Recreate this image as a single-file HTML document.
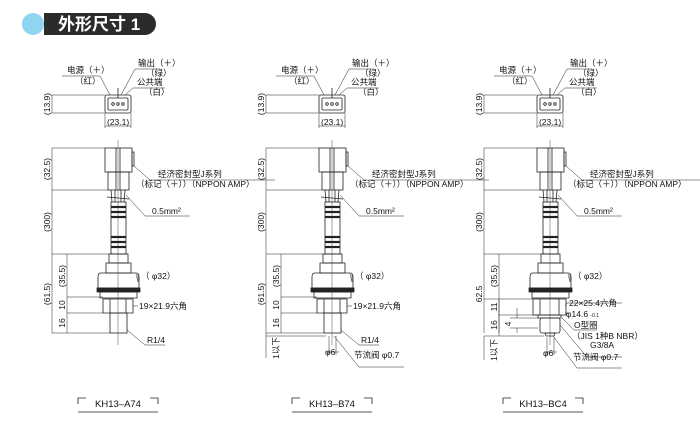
<!DOCTYPE html>
<html><head><meta charset="utf-8"><style>
html,body{margin:0;padding:0;background:#fff;width:700px;height:430px;overflow:hidden}
svg{display:block}
text{font-family:"Liberation Sans","Noto Sans CJK SC",sans-serif;font-size:8.5px;fill:#111}
.v{font-size:9px}
</style></head><body>
<svg width="700" height="430" viewBox="0 0 700 430" xmlns="http://www.w3.org/2000/svg">
<defs>
<g id="body" fill="none" stroke="#222" stroke-width="0.8">
  <rect x="105" y="95" width="26" height="18" rx="2"/>
  <rect x="108" y="98" width="20" height="12" rx="1"/>
  <circle cx="113" cy="104" r="1.3"/><circle cx="118" cy="104" r="1.3"/><circle cx="123" cy="104" r="1.3"/>
  <line x1="118" y1="88" x2="118" y2="98"/>
  <line x1="52" y1="95" x2="105" y2="95" stroke-width="0.5"/>
  <line x1="52" y1="113" x2="105" y2="113" stroke-width="0.5"/>
  <line x1="52" y1="95" x2="52" y2="113" stroke-width="0.5"/>
  <line x1="105" y1="113" x2="105" y2="128" stroke-width="0.5"/>
  <line x1="131" y1="113" x2="131" y2="128" stroke-width="0.5"/>
  <line x1="105" y1="126" x2="131" y2="126" stroke-width="0.5"/>
  <polyline points="62,76 100,76 110,95" stroke-width="0.5"/>
  <polyline points="160,69 135,69 121,95" stroke-width="0.5"/>
  <polyline points="165,88 133,88 125,95" stroke-width="0.5"/>
  <rect x="105" y="148" width="27" height="24"/>
  <rect x="108" y="172" width="21" height="18"/>
  <line x1="116" y1="148" x2="116" y2="190"/><line x1="120" y1="148" x2="120" y2="190"/>
  <rect x="132" y="152" width="2" height="14"/>
  <line x1="111" y1="190" x2="112" y2="202"/><line x1="115" y1="190" x2="115" y2="202"/>
  <line x1="121" y1="190" x2="121" y2="202"/><line x1="125" y1="190" x2="124" y2="202"/>
  <path d="M107 197 L129 199" />
  <rect x="111" y="202" width="15" height="52"/>
  <g stroke-width="2.2"><line x1="111" y1="207" x2="126" y2="207"/><line x1="111" y1="212" x2="126" y2="212"/><line x1="111" y1="217" x2="126" y2="217"/><line x1="111" y1="237" x2="126" y2="237"/><line x1="111" y1="242" x2="126" y2="242"/><line x1="111" y1="247" x2="126" y2="247"/></g>
  <rect x="109" y="254" width="19" height="9"/>
  <path d="M106 263 h25 v10 h-25z"/>
  <path d="M101 273 h35 q3 0 3 4 v11 h-41 v-11 q0-4 3-4z"/>
  <rect x="97" y="288" width="43" height="4" fill="#222"/>
  <path d="M100 292 h37 v6 h-37z"/>
  <line x1="118" y1="140" x2="118" y2="345" stroke-width="0.4"/>
  <g stroke-width="0.5">
  <line x1="52" y1="148" x2="105" y2="148"/><line x1="52" y1="190" x2="108" y2="190"/>
  <line x1="52" y1="254" x2="109" y2="254"/>
  <line x1="52" y1="148" x2="52" y2="333"/>
  <line x1="67" y1="254" x2="67" y2="333"/>
  </g>
</g>
<g id="hexR" fill="none" stroke="#222" stroke-width="0.8">
  <path d="M103 299 h30 v14 h-30z"/><line x1="110" y1="299" x2="110" y2="313"/><line x1="126" y1="299" x2="126" y2="313"/>
  <rect x="110" y="313" width="17" height="20"/>
  <g stroke-width="0.5"><line x1="67" y1="297" x2="103" y2="297"/><line x1="67" y1="313" x2="103" y2="313"/><line x1="52" y1="333" x2="110" y2="333"/></g>
</g>
<g id="cwire" fill="none" stroke="#222" stroke-width="0.5">
  <polyline points="134,166 150,180 275,180"/>
  <polyline points="126,195 145,216 190,216"/>
  <polyline points="136,274 138,282 138,274"/>
</g>
</defs>

<circle cx="33" cy="24" r="11" fill="#8fd5f2"/>
<rect x="44" y="13" width="112" height="22" rx="11" fill="#2b2b2b"/>
<rect x="44" y="13" width="20" height="22" fill="#2b2b2b"/>
<text x="58" y="30" style="font-size:17px;font-weight:bold;fill:#fff">外形尺寸 1</text>

<use href="#body"/><use href="#body" transform="translate(214,0)"/><use href="#body" transform="translate(432,0)"/>
<use href="#hexR"/><use href="#hexR" transform="translate(214,0)"/>
<use href="#cwire"/><use href="#cwire" transform="translate(214,0)"/><use href="#cwire" transform="translate(432,0)"/>

<g fill="none" stroke="#222" stroke-width="0.8" transform="translate(432,0)">
  <path d="M101 299 h33 v16 h-33z"/><line x1="108" y1="299" x2="108" y2="315"/><line x1="127" y1="299" x2="127" y2="315"/>
  <rect x="106" y="315" width="23" height="3"/>
  <rect x="108" y="318" width="20" height="15" rx="2"/>
  <path d="M113 333 h10 l-1 3 h-8z"/>
  <g stroke-width="0.5"><line x1="52" y1="299" x2="101" y2="299"/><line x1="67" y1="315" x2="106" y2="315"/><line x1="52" y1="336" x2="112" y2="336"/><line x1="78" y1="318" x2="106" y2="318"/><line x1="78" y1="328" x2="106" y2="328"/>
  <line x1="52" y1="336" x2="52" y2="360"/><line x1="67" y1="299" x2="67" y2="336"/><line x1="85" y1="308" x2="85" y2="318"/><line x1="85" y1="328" x2="85" y2="333"/>
  <line x1="115" y1="338" x2="115" y2="355"/><line x1="122" y1="338" x2="122" y2="355"/><line x1="112" y1="352" x2="125" y2="352"/>
  <polyline points="133,306 135,303 190,303"/><polyline points="133,313 138,313"/>
  <polyline points="130,318 142,330 165,330"/><polyline points="128,325 155,357 190,357"/><polyline points="121,336 145,368 190,368"/>
  </g>
</g>
<g fill="none" stroke="#222" stroke-width="0.5" transform="translate(214,0)">
  <line x1="52" y1="333" x2="52" y2="358"/><line x1="52" y1="336" x2="112" y2="336"/>
  <line x1="115" y1="336" x2="115" y2="355"/><line x1="122" y1="336" x2="122" y2="355"/><line x1="112" y1="352" x2="125" y2="352"/>
  <polyline points="120,336 145,367 190,367"/>
</g>
<g fill="none" stroke="#222" stroke-width="0.5">
  <polyline points="127,330 145,345 165,345"/><polyline points="341,330 359,345 379,345"/>
  <polyline points="133,306 138,306"/><polyline points="347,306 352,306"/>
</g>

<text x="67" y="73">电源（＋）</text><text x="75" y="84">（红）</text>
<text x="138" y="66">输出（＋）</text><text x="146" y="76">（绿）</text><text x="137" y="85">公共端</text><text x="144" y="95">（白）</text>
<text x="107" y="125">(23.1)</text>
<text x="158" y="177">经济密封型J系列</text><text x="136" y="187">（标记（＋））（NPPON AMP）</text>
<text x="152" y="214">0.5mm²</text>
<text x="141" y="279">（ φ32）</text>

<text x="281" y="73">电源（＋）</text><text x="289" y="84">（红）</text>
<text x="352" y="66">输出（＋）</text><text x="360" y="76">（绿）</text><text x="351" y="85">公共端</text><text x="358" y="95">（白）</text>
<text x="321" y="125">(23.1)</text>
<text x="372" y="177">经济密封型J系列</text><text x="350" y="187">（标记（＋））（NPPON AMP）</text>
<text x="366" y="214">0.5mm²</text><text x="355" y="279">（ φ32）</text>

<text x="499" y="73">电源（＋）</text><text x="507" y="84">（红）</text>
<text x="570" y="66">输出（＋）</text><text x="578" y="76">（绿）</text><text x="569" y="85">公共端</text><text x="576" y="95">（白）</text>
<text x="539" y="125">(23.1)</text>
<text x="590" y="177">经济密封型J系列</text><text x="568" y="187">（标记（＋））（NPPON AMP）</text>
<text x="584" y="214">0.5mm²</text><text x="573" y="279">（ φ32）</text>

<text x="139" y="309">19×21.9六角</text><text x="147" y="343">R1/4</text>
<text x="353" y="309">19×21.9六角</text><text x="361" y="343">R1/4</text>
<text x="325" y="355">φ6</text><text x="354" y="358">节流阀 φ0.7</text>
<text x="569" y="306">22×25.4六角</text><text x="566" y="317">φ14.6 <tspan style="font-size:5px">-0.1</tspan></text>
<text x="574" y="328">O型圈</text><text x="572" y="339">（JIS 1种B NBR）</text>
<text x="590" y="348">G3/8A</text><text x="543" y="356">φ6</text><text x="573" y="360">节流阀 φ0.7</text>

<g class="v">
<text transform="translate(50,104) rotate(-90)" text-anchor="middle">(13.9)</text>
<text transform="translate(264,104) rotate(-90)" text-anchor="middle">(13.9)</text>
<text transform="translate(482,104) rotate(-90)" text-anchor="middle">(13.9)</text>
<text transform="translate(50,169) rotate(-90)" text-anchor="middle">(32.5)</text>
<text transform="translate(264,169) rotate(-90)" text-anchor="middle">(32.5)</text>
<text transform="translate(482,169) rotate(-90)" text-anchor="middle">(32.5)</text>
<text transform="translate(50,222) rotate(-90)" text-anchor="middle">(300)</text>
<text transform="translate(264,222) rotate(-90)" text-anchor="middle">(300)</text>
<text transform="translate(482,222) rotate(-90)" text-anchor="middle">(300)</text>
<text transform="translate(50,294) rotate(-90)" text-anchor="middle">(61.5)</text>
<text transform="translate(264,294) rotate(-90)" text-anchor="middle">(61.5)</text>
<text transform="translate(482,294) rotate(-90)" text-anchor="middle">62.5</text>
<text transform="translate(65,276) rotate(-90)" text-anchor="middle">(35.5)</text>
<text transform="translate(279,276) rotate(-90)" text-anchor="middle">(35.5)</text>
<text transform="translate(497,276) rotate(-90)" text-anchor="middle">(35.5)</text>
<text transform="translate(65,305) rotate(-90)" text-anchor="middle">10</text>
<text transform="translate(279,305) rotate(-90)" text-anchor="middle">10</text>
<text transform="translate(497,307) rotate(-90)" text-anchor="middle">11</text>
<text transform="translate(65,323) rotate(-90)" text-anchor="middle">16</text>
<text transform="translate(279,323) rotate(-90)" text-anchor="middle">16</text>
<text transform="translate(497,325) rotate(-90)" text-anchor="middle">16</text>
<text transform="translate(511,324) rotate(-90)" text-anchor="middle">4</text>
<text transform="translate(279,348) rotate(-90)" text-anchor="middle">1以下</text>
<text transform="translate(497,350) rotate(-90)" text-anchor="middle">1以下</text>
</g>

<g fill="none" stroke="#222" stroke-width="0.8">
<polyline points="78,404 78,398 86,398"/><polyline points="150,398 158,398 158,404"/><line x1="78" y1="412" x2="158" y2="412"/>
<polyline points="292,404 292,398 300,398"/><polyline points="364,398 372,398 372,404"/><line x1="292" y1="412" x2="372" y2="412"/>
<polyline points="503,404 503,398 511,398"/><polyline points="575,398 583,398 583,404"/><line x1="503" y1="412" x2="583" y2="412"/>
</g>
<text x="118" y="407" text-anchor="middle" style="font-size:9.5px">KH13–A74</text>
<text x="332" y="407" text-anchor="middle" style="font-size:9.5px">KH13–B74</text>
<text x="543" y="407" text-anchor="middle" style="font-size:9.5px">KH13–BC4</text>
</svg>
</body></html>
